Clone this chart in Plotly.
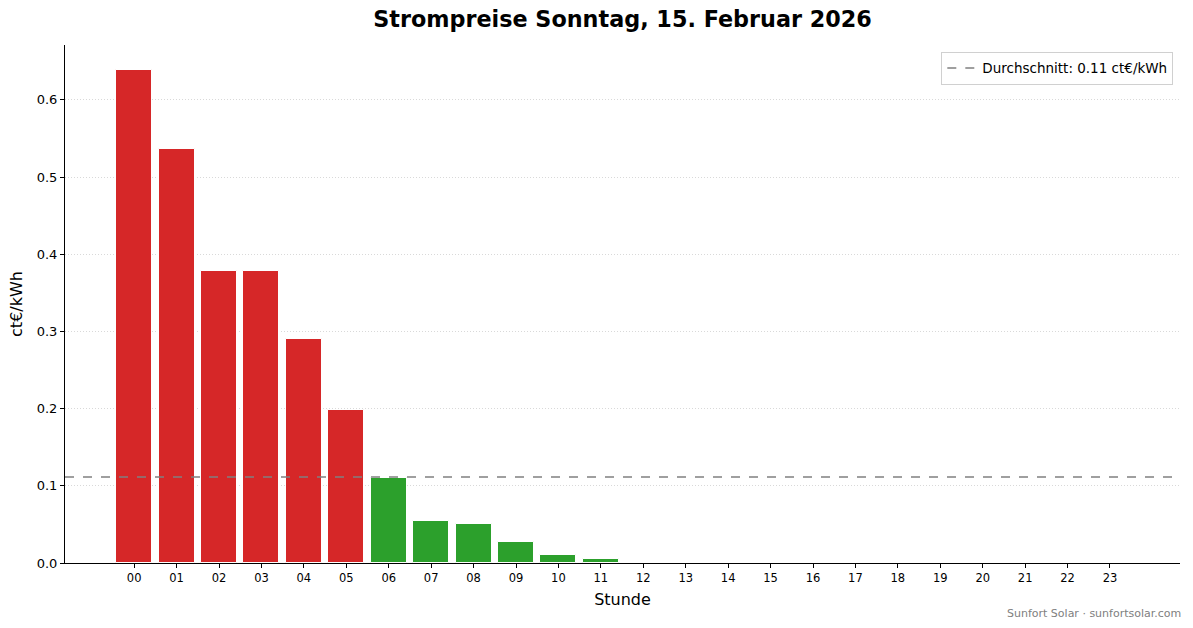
import plotly.graph_objects as go

hours = [f"{h:02d}" for h in range(24)]
prices = [0.639, 0.536, 0.378, 0.378, 0.290, 0.198, 0.110, 0.055, 0.050, 0.027,
          0.010, 0.005, 0.0, 0.0006, 0.0006, 0.0, 0.0, 0.0, 0.0, 0.0,
          0.0, 0.0, 0.0, 0.0]
avg = sum(prices) / len(prices)
colors = ["#d62728" if p > avg else "#2ca02c" for p in prices]
xpos = list(range(len(hours)))

font = "DejaVu Sans"
W, H = 1193, 628
L, R, T, B = 65, 13, 45, 65
fig = go.Figure()
fig.add_trace(go.Bar(x=xpos, y=prices, marker=dict(color=colors, line=dict(color="white", width=1)),
                     width=0.85, showlegend=False, hoverinfo="y"))
fig.add_trace(go.Scatter(x=[None], y=[None], mode="lines", line=dict(color="gray", dash="dash", width=1.5),
                         name=f"Durchschnitt: {avg:.2f} ct€/kWh"))
fig.add_shape(type="line", xref="x domain", yref="y", x0=0, x1=1, y0=avg, y1=avg,
              line=dict(color="gray", dash="dash", width=1.5), layer="above")

fig.update_layout(
    width=W, height=H,
    paper_bgcolor="white", plot_bgcolor="white",
    font=dict(family=font, color="black"),
    margin=dict(l=L, r=R, t=T, b=B),
    title=dict(text="<b>Strompreise Sonntag, 15. Februar 2026</b>", xref="paper", x=0.5, xanchor="center",
               y=1 - 19 / H, yanchor="middle", font=dict(size=22.3, family=font)),
    bargap=0,
    legend=dict(x=0.994, y=0.987, xanchor="right", yanchor="top", bordercolor="#d0d0d0", borderwidth=1,
                bgcolor="rgba(255,255,255,0.8)", font=dict(size=13.5, family=font), itemwidth=30),
    xaxis=dict(range=[-1.63, 24.65], tickmode="array", tickvals=xpos, ticktext=hours,
               showline=True, linecolor="black", linewidth=1, ticks="outside", ticklen=4,
               tickcolor="black", tickfont=dict(size=11.5), showgrid=False, zeroline=False,
               automargin=False,
               title=dict(text="Stunde", font=dict(size=16), standoff=10)),
    yaxis=dict(range=[0, 0.671], tickvals=[0, 0.1, 0.2, 0.3, 0.4, 0.5, 0.6],
               ticktext=["0.0", "0.1", "0.2", "0.3", "0.4", "0.5", "0.6"],
               showline=True, linecolor="black", linewidth=1, ticks="outside", ticklen=4,
               tickcolor="black", tickfont=dict(size=13), showgrid=True, gridcolor="#d9d9d9",
               griddash="1px,2px", gridwidth=1, zeroline=False, automargin=False,
               title=dict(text="ct€/kWh", font=dict(size=16), standoff=10)),
    annotations=[dict(text="Sunfort Solar · sunfortsolar.com", xref="paper", yref="paper",
                      x=1 + 3 / (W - L - R), y=-(613 - (H - B)) / (H - T - B),
                      xanchor="right", yanchor="middle", showarrow=False,
                      font=dict(size=11, color="gray", family=font))],
)

fig.write_html("out.html", config={"displayModeBar": False},
               post_script="document.body.style.margin='0';document.body.style.overflow='hidden';")
